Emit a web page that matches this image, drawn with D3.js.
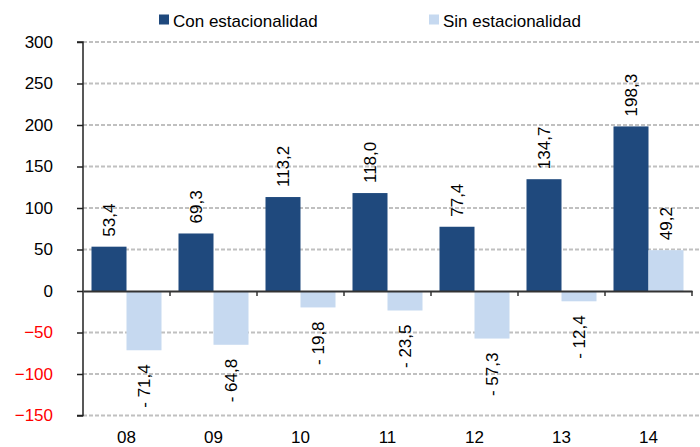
<!DOCTYPE html>
<html><head><meta charset="utf-8">
<script src="https://cdn.jsdelivr.net/npm/d3@7"></script>
<style>body{margin:0;background:#fff}svg{display:block;font-family:"Liberation Sans",Arial,sans-serif}</style>
</head><body><svg id="c" width="700" height="447"></svg>
<script>
const categories = ["08","09","10","11","12","13","14"];
const conEst = [53.4, 69.3, 113.2, 118.0, 77.4, 134.7, 198.3];
const sinEst = [-71.4, -64.8, -19.8, -23.5, -57.3, -12.4, 49.2];
const seriesNames = ["Con estacionalidad", "Sin estacionalidad"];
const yTicks = [-150, -100, -50, 0, 50, 100, 150, 200, 250, 300];
const colors = ["#1f497d", "#c6d9f0"];

const svg = d3.select("#c");
const x0 = 83, x1 = 692, yTop = 42, yBot = 415.5;
const x = d3.scaleBand().domain(categories).range([x0, x1]).paddingInner(0).paddingOuter(0);
const y = d3.scaleLinear().domain([-150, 300]).range([yBot, yTop]);
const bw = 35, pad = (x.bandwidth() - 2*bw)/2;
const FS = 17;

// gridlines
svg.append("g").selectAll("line").data(yTicks.filter(t=>t!==0)).join("line")
  .attr("x1", x0).attr("x2", 700).attr("y1", d=>y(d)).attr("y2", d=>y(d))
  .attr("stroke", "#c0c0c0").attr("stroke-width", 2).attr("stroke-dasharray", "4,2");

const fmt = v => (v < 0 ? "- " + d3.format(".1f")(-v) : d3.format(".1f")(v)).replace(".", ",");

const series = [conEst, sinEst];
series.forEach((vals, si) => {
  const g = svg.append("g");
  g.selectAll("rect").data(vals).join("rect")
    .attr("x", (d,i)=>x(categories[i]) + pad + si*bw)
    .attr("width", bw)
    .attr("y", d=>y(Math.max(0,d)))
    .attr("height", d=>Math.abs(y(d)-y(0)))
    .attr("fill", colors[si]);
  g.selectAll("text").data(vals).join("text")
    .attr("transform", (d,i)=>{
      const cx = x(categories[i]) + pad + si*bw + bw/2;
      const cy = d >= 0 ? y(d) - 10 : y(d) + 14;
      return `translate(${cx},${cy}) rotate(-90)`;
    })
    .attr("text-anchor", d => d >= 0 ? "start" : "end")
    .attr("dy", "0.35em")
    .attr("font-size", FS).attr("fill", "#000")
    .text(d => fmt(d));
});

// y axis
const yAxis = d3.axisLeft(y).tickValues(yTicks).tickSize(6).tickFormat(d3.format("d"));
const ya = svg.append("g").attr("transform", `translate(${x0},0)`).call(yAxis);
ya.select(".domain").attr("stroke", "#222").attr("stroke-width", 1.5).attr("d", `M-6,${yTop}H0V${yBot}H-6`);
ya.selectAll(".tick line").attr("stroke", "#222").attr("stroke-width", 1.5);
ya.selectAll(".tick text").attr("x", -30).attr("font-size", FS).attr("font-family", "Liberation Sans, Arial, sans-serif")
  .attr("fill", d => d < 0 ? "#ff0000" : "#000");

// x axis at zero
const xAxis = d3.axisBottom(x).tickSize(0).tickFormat("");
const xa = svg.append("g").attr("transform", `translate(0,${y(0)})`).call(xAxis);
xa.select(".domain").attr("stroke", "#333").attr("stroke-width", 2);
xa.selectAll(".tick").remove();
const bounds = categories.map(c => x(c)).concat([x1]).slice(1);
svg.append("g").selectAll("line").data(bounds).join("line")
  .attr("x1", d=>d).attr("x2", d=>d).attr("y1", y(0)).attr("y2", y(0)+5)
  .attr("stroke", "#333").attr("stroke-width", 1.5);

// category labels at bottom
svg.append("g").selectAll("text").data(categories).join("text")
  .attr("x", d => x(d) + x.bandwidth()/2).attr("y", 443)
  .attr("text-anchor", "middle").attr("font-size", FS).attr("fill", "#000").text(d=>d);

// legend
const legX = [159, 429];
seriesNames.forEach((n, i) => {
  svg.append("rect").attr("x", legX[i]).attr("y", 14.5).attr("width", 10).attr("height", 10).attr("fill", colors[i]);
  svg.append("text").attr("x", legX[i] + 14).attr("y", 26.5).attr("font-size", FS).attr("fill", "#000").text(n);
});
</script></body></html>
